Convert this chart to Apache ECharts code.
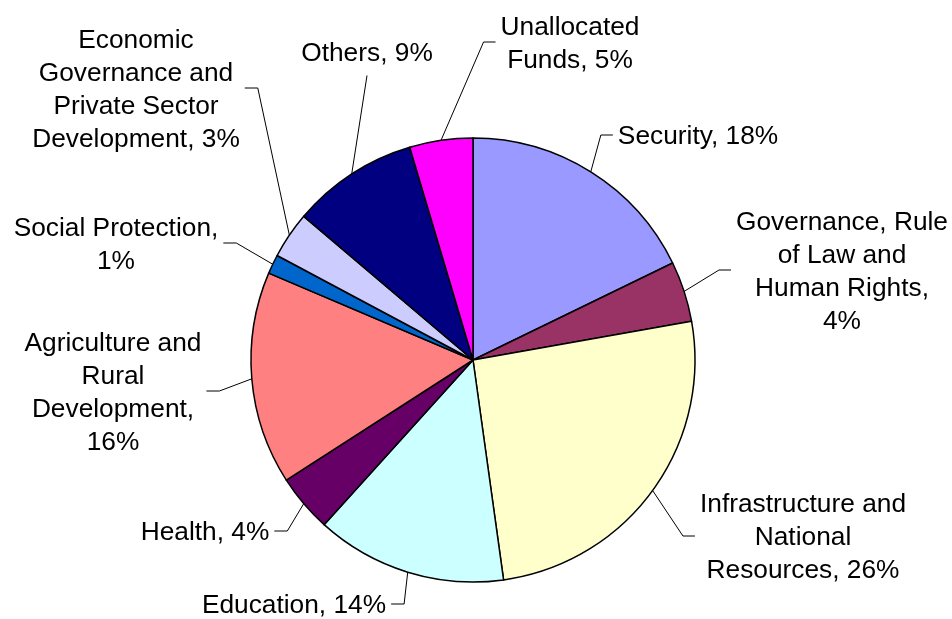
<!DOCTYPE html>
<html><head><meta charset="utf-8">
<script src="https://cdn.jsdelivr.net/npm/echarts@6.0.0/dist/echarts.min.js"></script>
<style>html,body{margin:0;padding:0;background:#fff}#c{width:952px;height:619px}</style>
</head><body><div id="c"></div>
<script>
const categories = ['Security', 'Governance, Rule\nof Law and\nHuman Rights', 'Infrastructure and\nNational\nResources', 'Education', 'Health', 'Agriculture and\nRural\nDevelopment', 'Social Protection', 'Economic\nGovernance and\nPrivate Sector\nDevelopment', 'Others', 'Unallocated\nFunds'];
const values = [17.8, 4.4, 25.6, 13.9, 4.2, 15.5, 1.4, 3.4, 9.2, 4.6];
const pctOnNewLine = [false, true, false, false, false, true, true, false, false, false];
const colors = ['#9999FF', '#993366', '#FFFFCC', '#CCFFFF', '#660066', '#FF8080', '#0066CC', '#CCCCFF', '#000080', '#FF00FF'];

// label layout (centre of each text block) and which side the leader meets it
const labelCenters = [[698, 137], [842, 272], [803, 538], [294, 606], [205, 533], [113, 393], [116, 245], [136, 90], [367, 54], [570, 44]];
const labelSide = ['right', 'right', 'right', 'left', 'left', 'left', 'left', 'left', 'top', 'right'];

const chart = echarts.init(document.getElementById('c'), null, {renderer: 'canvas'});
const data = categories.map((n, i) => ({name: n, value: values[i], itemStyle: {color: colors[i]}}));

chart.setOption({
  backgroundColor: '#fff',
  animation: false,
  series: [{
    type: 'pie',
    center: [473, 360],
    radius: 222,
    startAngle: 90,
    clockwise: true,
    avoidLabelOverlap: false,
    data: data,
    itemStyle: {borderColor: '#000', borderWidth: 1.5},
    label: {
      show: true,
      position: 'outside',
      color: '#000',
      fontFamily: 'Liberation Sans, Arial, sans-serif',
      fontSize: 26.3,
      lineHeight: 33,
      align: 'center',
      formatter: function (p) {
        const i = p.dataIndex;
        return categories[i] + (pctOnNewLine[i] ? ',\n' : ', ') + Math.round(p.percent + 1e-9) + '%';
      }
    },
    labelLine: {show: true, length: 10, length2: 10, lineStyle: {color: '#000', width: 1}},
    labelLayout: function (params) {
      const i = params.dataIndex;
      const c = labelCenters[i];
      const w = params.labelRect.width, h = params.labelRect.height;
      const p0 = params.labelLinePoints ? params.labelLinePoints[0] : [c[0], c[1]];
      const ly = c[1] - 2;
      let pts;
      if (labelSide[i] === 'right') {
        const end = [c[0] - w / 2 - 5, ly];
        pts = [p0, [end[0] - 12, ly], end];
      } else if (labelSide[i] === 'left') {
        const end = [c[0] + w / 2 + 5, ly];
        pts = [p0, [end[0] + 13, ly], end];
      } else {
        const end = [c[0], c[1] + h / 2 + 5];
        pts = [p0, end, end];
      }
      return {x: c[0], y: c[1], align: 'center', verticalAlign: 'middle', labelLinePoints: pts};
    }
  }]
});
</script>
</body></html>
